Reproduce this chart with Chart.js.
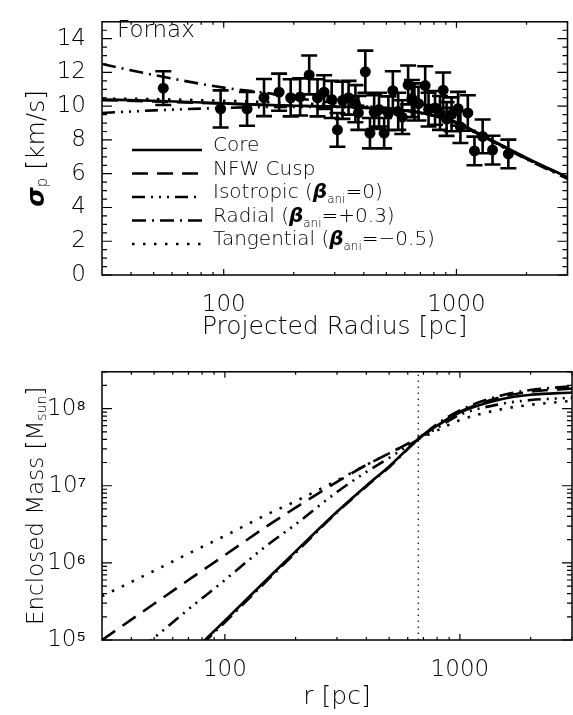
<!DOCTYPE html>
<html>
<head>
<meta charset="utf-8">
<script src="https://cdn.jsdelivr.net/npm/chart.js@4.4.0/dist/chart.umd.min.js"></script>
<style>
  html, body { margin: 0; padding: 0; background: #fff; }
  #wrap { position: relative; width: 573px; height: 715px; }
  #top { position: absolute; left: 0; top: 0; }
  #bot { position: absolute; left: 0; top: 350px; }
</style>
</head>
<body>
<div id="wrap">
  <canvas id="top" width="573" height="350"></canvas>
  <canvas id="bot" width="573" height="365"></canvas>
</div>
<script>
// Fornax: projected velocity dispersion profile (pc, km/s)
const radius = [55, 97, 126, 149, 173, 194, 213, 233, 253, 270, 291, 308, 324, 344, 368, 379, 406, 425, 443, 465, 489, 510, 533, 562, 585, 620, 644, 660, 687, 734, 759, 809, 850, 877, 907, 953, 1016, 1040, 1119, 1195, 1296, 1429, 1671]
const sigma = [11.07, 9.84, 9.84, 10.51, 10.83, 10.50, 10.55, 11.85, 10.50, 10.83, 10.40, 8.60, 10.35, 10.50, 10.15, 9.60, 12.04, 8.40, 9.65, 9.80, 8.40, 9.58, 10.92, 9.70, 9.35, 11.26, 10.45, 10.25, 10.15, 11.22, 9.80, 9.90, 9.60, 10.95, 9.24, 9.52, 9.85, 8.77, 9.60, 7.35, 8.21, 7.40, 7.17]
const sigmaErr = [1.0, 1.1, 1.0, 1.1, 1.1, 1.1, 1.1, 1.15, 1.1, 1.0, 1.1, 1.0, 1.1, 1.0, 1.1, 1.0, 1.25, 0.9, 1.0, 1.0, 0.9, 1.0, 1.15, 1.1, 1.0, 1.15, 1.1, 1.1, 1.0, 1.15, 1.0, 1.0, 1.0, 1.05, 1.0, 1.0, 1.0, 0.95, 1.05, 0.85, 1.0, 0.85, 0.85]

// model dispersion curves
const modelRadius = [30, 50, 100, 150, 200, 300, 400, 500, 700, 1000, 1240, 1500, 2000, 3000]
const sigmaCore = [10.40, 10.32, 10.17, 10.08, 10.03, 9.98, 9.92, 9.85, 9.62, 9.05, 8.40, 7.82, 6.94, 5.80]
const sigmaNfw = [10.36, 10.28, 10.15, 10.07, 10.02, 9.97, 9.91, 9.84, 9.60, 9.02, 8.36, 7.78, 6.90, 5.76]
const sigmaIso = [9.60, 9.75, 9.90, 9.95, 9.96, 9.95, 9.90, 9.83, 9.60, 9.02, 8.36, 7.78, 6.90, 5.74]
const sigmaRad = [12.50, 11.85, 11.10, 10.80, 10.50, 10.20, 10.02, 9.90, 9.62, 9.03, 8.35, 7.75, 6.86, 5.70]
const sigmaTan = [10.45, 10.42, 10.32, 10.25, 10.18, 10.08, 9.98, 9.88, 9.60, 9.00, 8.33, 7.75, 6.88, 5.76]

// enclosed mass curves (M_sun)
const massRadius = [30, 50, 70, 100, 150, 200, 300, 400, 500, 665, 800, 1000, 1500, 2000, 3000]
const massCore = [4.8e3, 2.24e4, 6.2e4, 1.78e5, 6.0e5, 1.41e6, 4.6e6, 1.0e7, 1.78e7, 4.0e7, 6.0e7, 8.9e7, 1.32e8, 1.51e8, 1.62e8]
const massNfw = [1.0e5, 2.95e5, 6.0e5, 1.26e6, 2.95e6, 5.2e6, 1.12e7, 1.86e7, 2.63e7, 4.2e7, 6.0e7, 9.1e7, 1.41e8, 1.66e8, 1.82e8]
const massIso = [3.0e4, 1.07e5, 2.5e5, 6.0e5, 1.66e6, 3.16e6, 8.3e6, 1.51e7, 2.3e7, 4.0e7, 5.6e7, 8.3e7, 1.15e8, 1.29e8, 1.38e8]
const massRad = [4.6e3, 2.14e4, 5.9e4, 1.7e5, 5.75e5, 1.35e6, 4.5e6, 9.8e6, 1.74e7, 4.0e7, 6.3e7, 9.5e7, 1.48e8, 1.74e8, 1.95e8]
const massTan = [3.7e5, 7.9e5, 1.32e6, 2.24e6, 4.2e6, 6.3e6, 1.17e7, 1.86e7, 2.63e7, 4.0e7, 5.2e7, 7.1e7, 9.8e7, 1.12e8, 1.26e8]
const radiusMarker = 665

const modelNames = ['Core', 'NFW Cusp', 'Isotropic (β_ani=0)', 'Radial (β_ani=+0.3)', 'Tangential (β_ani=−0.5)']

// axis ticks
const radiusTicks = [100, 1000]
const radiusMinor = [40, 50, 60, 70, 80, 90, 200, 300, 400, 500, 600, 700, 800, 900, 2000, 3000]
const sigmaTicks = [0, 2, 4, 6, 8, 10, 12, 14]
const sigmaMinor = [0.5, 1, 1.5, 2.5, 3, 3.5, 4.5, 5, 5.5, 6.5, 7, 7.5, 8.5, 9, 9.5, 10.5, 11, 11.5, 12.5, 13, 13.5, 14.5]
const massTicks = [1e5, 1e6, 1e7, 1e8]
const massTickLabels = ['10⁵', '10⁶', '10⁷', '10⁸']
const massMinor = [2e5, 3e5, 4e5, 5e5, 6e5, 7e5, 8e5, 9e5, 2e6, 3e6, 4e6, 5e6, 6e6, 7e6, 8e6, 9e6,
                   2e7, 3e7, 4e7, 5e7, 6e7, 7e7, 8e7, 9e7, 2e8, 3e8]

const FONT = '"DejaVu Sans", sans-serif'
const W = 200
const styles = [
    { dash: [] },
    { dash: [16, 9] },
    { dash: [13, 6, 2, 6, 2, 6, 2, 6] },
    { dash: [14, 6, 2, 6] },
    { dash: [2.5, 8.5] },
]

function pts(xs, ys) {
    return xs.map((x, i) => ({ x: x, y: ys[i] }))
}

function richParts(str) {
    const parts = []
    const re = /(\S)_(\w+)/g
    let last = 0, m
    while ((m = re.exec(str))) {
        if (m.index > last) parts.push({ t: str.slice(last, m.index), k: 'n' })
        parts.push({ t: m[1], k: /[σβ]/.test(m[1]) ? 'g' : 'n' })
        parts.push({ t: m[2], k: 's' })
        last = re.lastIndex
    }
    if (last < str.length) parts.push({ t: str.slice(last), k: 'n' })
    return parts
}

function drawRich(ctx, str, x, y, size, center) {
    const fonts = {
        n: `${W} ${size}px ${FONT}`,
        g: `italic bold ${size}px "DejaVu Sans"`,
        s: `${W} ${Math.round(size * 0.6)}px ${FONT}`
    }
    const parts = richParts(str)
    let w = 0
    parts.forEach(p => { ctx.font = fonts[p.k]; p.w = ctx.measureText(p.t).width; w += p.w })
    let cx = center ? x - w / 2 : x
    parts.forEach(p => {
        ctx.font = fonts[p.k]
        ctx.fillText(p.t, cx, y + (p.k === 's' ? size * 0.25 : 0))
        cx += p.w
    })
}

// IDL style frame with inward ticks on all four sides
const idlAxes = {
    id: 'idlAxes',
    afterDraw(chart, args, opts) {
        const { ctx, chartArea: a, scales: { x, y } } = chart
        ctx.save()
        ctx.strokeStyle = '#000'
        ctx.lineWidth = 1.5
        ctx.strokeRect(a.left, a.top, a.right - a.left, a.bottom - a.top)
        ctx.lineWidth = 1.2
        ctx.beginPath()
        const xt = (v, len) => {
            const p = x.getPixelForValue(v)
            ctx.moveTo(p, a.bottom); ctx.lineTo(p, a.bottom - len)
            ctx.moveTo(p, a.top); ctx.lineTo(p, a.top + len)
        }
        const yt = (v, len) => {
            const p = y.getPixelForValue(v)
            ctx.moveTo(a.left, p); ctx.lineTo(a.left + len, p)
            ctx.moveTo(a.right, p); ctx.lineTo(a.right - len, p)
        }
        opts.xMajor.forEach(v => xt(v, 6))
        opts.xMinor.forEach(v => xt(v, 3))
        opts.yMajor.forEach(v => yt(v, 10))
        opts.yMinor.forEach(v => yt(v, 5))
        ctx.stroke()

        // y title with sub/greek
        ctx.fillStyle = '#000'
        ctx.textBaseline = 'middle'
        ctx.translate(37, (a.top + a.bottom) / 2)
        ctx.rotate(-Math.PI / 2)
        drawRich(ctx, opts.yTitle, 0, 0, opts.titleSize, true)
        ctx.restore()
    }
}

const errorBars = {
    id: 'errorBars',
    beforeDatasetsDraw(chart) {
        const { ctx, chartArea: a, scales: { x, y } } = chart
        ctx.save()
        ctx.beginPath()
        ctx.rect(a.left, a.top, a.right - a.left, a.bottom - a.top)
        ctx.clip()
        ctx.strokeStyle = '#000'
        ctx.lineWidth = 2.6
        ctx.beginPath()
        radius.forEach((r, i) => {
            const px = x.getPixelForValue(r)
            const lo = y.getPixelForValue(sigma[i] - sigmaErr[i])
            const hi = y.getPixelForValue(sigma[i] + sigmaErr[i])
            ctx.moveTo(px, lo); ctx.lineTo(px, hi)
            ctx.moveTo(px - 8, lo); ctx.lineTo(px + 8, lo)
            ctx.moveTo(px - 8, hi); ctx.lineTo(px + 8, hi)
        })
        ctx.stroke()
        ctx.restore()
    }
}

const legendBox = {
    id: 'legendBox',
    afterDraw(chart) {
        const { ctx } = chart
        ctx.save()
        ctx.fillStyle = '#000'
        ctx.textBaseline = 'alphabetic'
        ctx.font = `${W} 23px ${FONT}`
        ctx.fillText('Fornax', 117, 37)
        chart.data.datasets.slice(1).forEach((ds, i) => {
            const yy = 150 + i * 23.5
            ctx.strokeStyle = '#000'
            ctx.lineWidth = ds.borderWidth
            ctx.setLineDash(ds.borderDash)
            ctx.beginPath()
            ctx.moveTo(132, yy); ctx.lineTo(202, yy)
            ctx.stroke()
            ctx.setLineDash([])
            drawRich(ctx, ds.label, 213, yy + 1, 20, false)
        })
        ctx.restore()
    }
}

function modelSet(label, xs, ys, i) {
    return {
        label: label,
        data: pts(xs, ys),
        borderColor: '#000',
        borderWidth: 2.6,
        borderDash: styles[i].dash,
        pointRadius: 0,
        cubicInterpolationMode: 'monotone',
        fill: false,
    }
}

function xAxis(title, titlePad) {
    return {
        type: 'logarithmic',
        min: 30,
        max: 3000,
        afterFit: s => { s.height = 75 },
        afterBuildTicks: s => { s.ticks = radiusTicks.map(v => ({ value: v })) },
        grid: { display: false },
        border: { display: false },
        ticks: {
            color: '#000',
            padding: 8,
            maxRotation: 0,
            autoSkip: false,
            font: { family: FONT, size: 23, weight: W },
            callback: v => String(v)
        },
        title: {
            display: true,
            text: title,
            color: '#000',
            font: { family: FONT, size: 25, weight: W },
            padding: { top: 0, bottom: titlePad }
        }
    }
}

const common = {
    responsive: false,
    animation: false,
    events: [],
    plugins: { legend: { display: false }, tooltip: { enabled: false } }
}

new Chart(document.getElementById('top'), {
    type: 'line',
    data: {
        datasets: [
            {
                label: 'Fornax data',
                data: pts(radius, sigma),
                showLine: false,
                pointRadius: 5.5,
                pointBackgroundColor: '#000',
                pointBorderColor: '#000',
                borderWidth: 0
            },
            modelSet(modelNames[0], modelRadius, sigmaCore, 0),
            modelSet(modelNames[1], modelRadius, sigmaNfw, 1),
            modelSet(modelNames[2], modelRadius, sigmaIso, 2),
            modelSet(modelNames[3], modelRadius, sigmaRad, 3),
            modelSet(modelNames[4], modelRadius, sigmaTan, 4),
        ]
    },
    options: {
        ...common,
        layout: { padding: { top: 6, right: 1, left: 0, bottom: 0 } },
        scales: {
            x: xAxis('Projected Radius [pc]', 8),
            y: {
                type: 'linear',
                min: 0,
                max: 15,
                afterFit: s => { s.width = 102 },
                afterBuildTicks: s => { s.ticks = sigmaTicks.map(v => ({ value: v })) },
                grid: { display: false },
                border: { display: false },
                ticks: { color: '#000', padding: 8, font: { family: FONT, size: 23, weight: W } }
            }
        },
        plugins: {
            ...common.plugins,
            idlAxes: { xMajor: radiusTicks, xMinor: radiusMinor, yMajor: sigmaTicks, yMinor: sigmaMinor, yTitle: 'σ_p [km/s]', titleSize: 25 }
        }
    },
    plugins: [errorBars, idlAxes, legendBox]
})

new Chart(document.getElementById('bot'), {
    type: 'line',
    data: {
        datasets: [
            modelSet(modelNames[0], massRadius, massCore, 0),
            modelSet(modelNames[1], massRadius, massNfw, 1),
            modelSet(modelNames[2], massRadius, massIso, 2),
            modelSet(modelNames[3], massRadius, massRad, 3),
            modelSet(modelNames[4], massRadius, massTan, 4),
            {
                label: 'r_marker',
                data: [{ x: radiusMarker, y: 1e5 }, { x: radiusMarker, y: 3e8 }],
                borderColor: '#000',
                borderWidth: 1.2,
                borderDash: [1.5, 4.5],
                pointRadius: 0
            }
        ]
    },
    options: {
        ...common,
        layout: { padding: { top: 21, right: 1, left: 0, bottom: 0 } },
        scales: {
            x: xAxis('r [pc]', 3),
            y: {
                type: 'logarithmic',
                min: 1e5,
                max: 3e8,
                afterFit: s => { s.width = 102 },
                afterBuildTicks: s => { s.ticks = massTicks.map(v => ({ value: v })) },
                grid: { display: false },
                border: { display: false },
                ticks: {
                    color: '#000', padding: 8,
                    font: { family: FONT, size: 23, weight: W },
                    callback: (v, i) => massTickLabels[i]
                }
            }
        },
        plugins: {
            ...common.plugins,
            idlAxes: { xMajor: radiusTicks, xMinor: radiusMinor, yMajor: massTicks, yMinor: massMinor, yTitle: 'Enclosed Mass [M_sun]', titleSize: 23 }
        }
    },
    plugins: [idlAxes]
})
</script>
</body>
</html>
